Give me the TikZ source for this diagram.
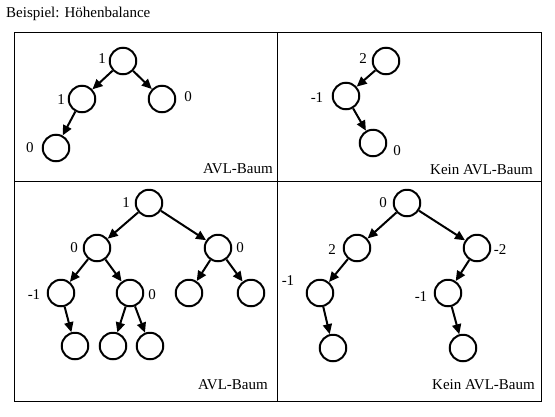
\documentclass[tikz,border=0pt]{standalone}
\usepackage{fontspec}
\setmainfont{Liberation Serif}
\usetikzlibrary{arrows.meta}
\begin{document}
\begin{tikzpicture}[x=1pt,y=-1pt,
  knot/.style={circle,draw,line width=2pt,minimum size=26.5pt,inner sep=0pt},
  edge/.style={line width=2pt,-{Triangle[length=10pt,width=9pt]}},
  bal/.style={font=\fontsize{15}{17}\selectfont,inner sep=0pt},
  paneltext/.style={font=\fontsize{15}{17}\selectfont,inner sep=0pt,anchor=east},
  frame/.style={line width=1pt}]
\useasboundingbox (0,0) rectangle (555,416);
% title
\node[font=\fontsize{15}{17}\selectfont,inner sep=0pt,anchor=west] (title) at (6,14) {Beispiel: Höhenbalance};
% frame
\draw[frame] (14,32) rectangle (541,401);
\draw[frame] (277,32) -- (277,401);
\draw[frame] (14,181) -- (541,181);

% panel 1
\node[knot] (a1) at (123,61) {};
\node[knot] (a2) at (82,99) {};
\node[knot] (a3) at (162,99) {};
\node[knot] (a4) at (56,148) {};
\draw[edge] (a1) -- (a2);
\draw[edge] (a1) -- (a3);
\draw[edge] (a2) -- (a4);
\node[bal] (la1) at (102,59) {1};
\node[bal] (la2) at (61,100) {1};
\node[bal] (la3) at (188,97) {0};
\node[bal] (la4) at (30,148) {0};
\node[paneltext] (ca) at (273,169) {AVL-Baum};

% panel 2
\node[knot] (b1) at (386,61) {};
\node[knot] (b2) at (346,96) {};
\node[knot] (b3) at (373,143) {};
\draw[edge] (b1) -- (b2);
\draw[edge] (b2) -- (b3);
\node[bal] (lb1) at (363,59) {2};
\node[bal] (lb2) at (317,98) {-1};
\node[bal] (lb3) at (397,151) {0};
\node[paneltext] (cb) at (533,170) {Kein AVL-Baum};

% panel 3
\node[knot] (c1) at (149,203) {};
\node[knot] (c2) at (97,248) {};
\node[knot] (c3) at (218,248) {};
\node[knot] (c4) at (61,293) {};
\node[knot] (c5) at (130,293) {};
\node[knot] (c6) at (189,293) {};
\node[knot] (c7) at (251,293) {};
\node[knot] (c8) at (75,346) {};
\node[knot] (c9) at (113,346) {};
\node[knot] (c10) at (150,346) {};
\draw[edge] (c1) -- (c2);
\draw[edge] (c1) -- (c3);
\draw[edge] (c2) -- (c4);
\draw[edge] (c2) -- (c5);
\draw[edge] (c3) -- (c6);
\draw[edge] (c3) -- (c7);
\draw[edge] (c4) -- (c8);
\draw[edge] (c5) -- (c9);
\draw[edge] (c5) -- (c10);
\node[bal] (lc1) at (126,203) {1};
\node[bal] (lc2) at (74,248) {0};
\node[bal] (lc3) at (240,248) {0};
\node[bal] (lc4) at (34,295) {-1};
\node[bal] (lc5) at (152,295) {0};
\node[paneltext] (cc) at (268,385) {AVL-Baum};

% panel 4
\node[knot] (d1) at (407,203) {};
\node[knot] (d2) at (357,248) {};
\node[knot] (d3) at (477,248) {};
\node[knot] (d4) at (320,293) {};
\node[knot] (d5) at (448,293) {};
\node[knot] (d6) at (333,348) {};
\node[knot] (d7) at (463,348) {};
\draw[edge] (d1) -- (d2);
\draw[edge] (d1) -- (d3);
\draw[edge] (d2) -- (d4);
\draw[edge] (d3) -- (d5);
\draw[edge] (d4) -- (d6);
\draw[edge] (d5) -- (d7);
\node[bal] (ld1) at (383,203) {0};
\node[bal] (ld2) at (332,250) {2};
\node[bal] (ld3) at (500,250) {-2};
\node[bal] (ld4) at (288,281) {-1};
\node[bal] (ld5) at (421,297) {-1};
\node[paneltext] (cd) at (535,385) {Kein AVL-Baum};
\end{tikzpicture}
\end{document}
